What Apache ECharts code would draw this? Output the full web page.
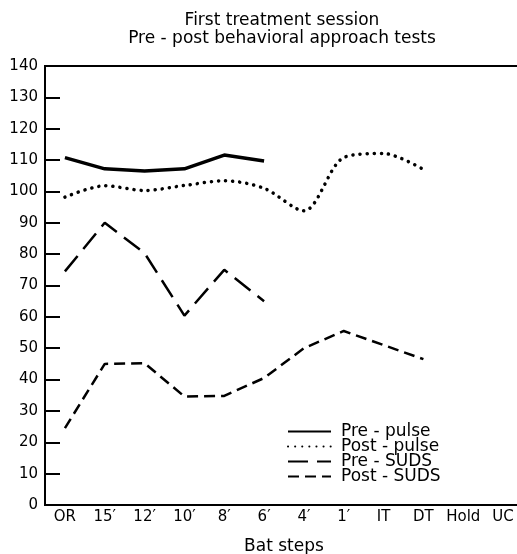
<!DOCTYPE html>
<html>
<head>
<meta charset="utf-8">
<script src="https://cdn.jsdelivr.net/npm/echarts@6/dist/echarts.min.js"></script>
<style>html,body{margin:0;padding:0;background:#fff}#c{width:517px;height:554px}</style>
</head>
<body>
<div id="c"></div>
<script>
var categories = ["OR", "15\u2032", "12\u2032", "10\u2032", "8\u2032", "6\u2032", "4\u2032", "1\u2032", "IT", "DT", "Hold", "UC"];
var prePulse  = [110.8, 107.2, 106.5, 107.2, 111.6, 109.7, null, null, null, null, null, null];
var postPulse = [98.2, 101.8, 100.3, 101.9, 103.4, 101.0, 93.8, 110.8, 112.1, 107.0, null, null];
var preSUDS   = [74.5, 90, 80.3, 60.4, 75, 65, null, null, null, null, null, null];
var postSUDS  = [24.5, 45, 45.2, 34.6, 34.8, 40.5, 50, 55.5, 51, 46.5, null, null];
var yTicks = {min: 0, max: 140, step: 10};

var FONT = 'DejaVu Sans';
var chart = echarts.init(document.getElementById('c'), null, {renderer: 'canvas'});
chart.setOption({
  animation: false,
  backgroundColor: '#fff',
  textStyle: {fontFamily: FONT, color: '#000'},
  title: {
    text: 'First treatment session\nPre - post behavioral approach tests',
    left: 282, top: 12, textAlign: 'center', padding: 0,
    textStyle: {fontFamily: FONT, fontSize: 17, fontWeight: 'normal', color: '#000', lineHeight: 18, align: 'center'}
  },
  legend: {
    orient: 'vertical', left: 287, top: 423, padding: 0,
    itemWidth: 43, itemHeight: 15, itemGap: -2,
    itemStyle: {opacity: 0},
    textStyle: {fontFamily: FONT, fontSize: 17, color: '#000', lineHeight: 15, padding: [0, 0, 0, 5]},
    data: ['Pre - pulse', 'Post - pulse', 'Pre - SUDS', 'Post - SUDS']
  },
  grid: {left: 45, width: 478, top: 66, bottom: 49, show: true, borderColor: '#000', borderWidth: 2, containLabel: false, outerBoundsMode: 'none'},
  xAxis: {
    type: 'category', data: categories, boundaryGap: true,
    name: 'Bat steps', nameLocation: 'middle', nameGap: 33,
    nameTextStyle: {fontFamily: FONT, fontSize: 17, color: '#000'},
    axisLine: {lineStyle: {color: '#000', width: 2}},
    axisTick: {inside: true, alignWithLabel: true, length: 16, lineStyle: {color: '#000', width: 2}},
    axisLabel: {interval: 0, fontFamily: FONT, fontSize: 15, color: '#000', margin: 5},
    splitLine: {show: false}
  },
  yAxis: {
    type: 'value', min: yTicks.min, max: yTicks.max, interval: yTicks.step,
    axisLine: {show: true, lineStyle: {color: '#000', width: 2}},
    axisTick: {show: true, inside: true, length: 15, lineStyle: {color: '#000', width: 2}},
    axisLabel: {fontFamily: FONT, fontSize: 15, color: '#000', margin: 7},
    splitLine: {show: false}
  },
  series: [
    {name: 'Pre - pulse', type: 'line', data: prePulse, symbol: 'none', connectNulls: false,
     lineStyle: {color: '#000', width: 3.5}, itemStyle: {color: '#000'}},
    {name: 'Post - pulse', type: 'line', data: postPulse, symbol: 'none', smooth: 0.3,
     lineStyle: {color: '#000', width: 3.5, type: [0.1, 7], cap: 'round'}, itemStyle: {color: '#000'}},
    {name: 'Pre - SUDS', type: 'line', data: preSUDS, symbol: 'none',
     lineStyle: {color: '#000', width: 2.5, type: [20, 9]}, itemStyle: {color: '#000'}},
    {name: 'Post - SUDS', type: 'line', data: postSUDS, symbol: 'none',
     lineStyle: {color: '#000', width: 2.5, type: [11, 6]}, itemStyle: {color: '#000'}}
  ]
});
</script>
</body>
</html>
